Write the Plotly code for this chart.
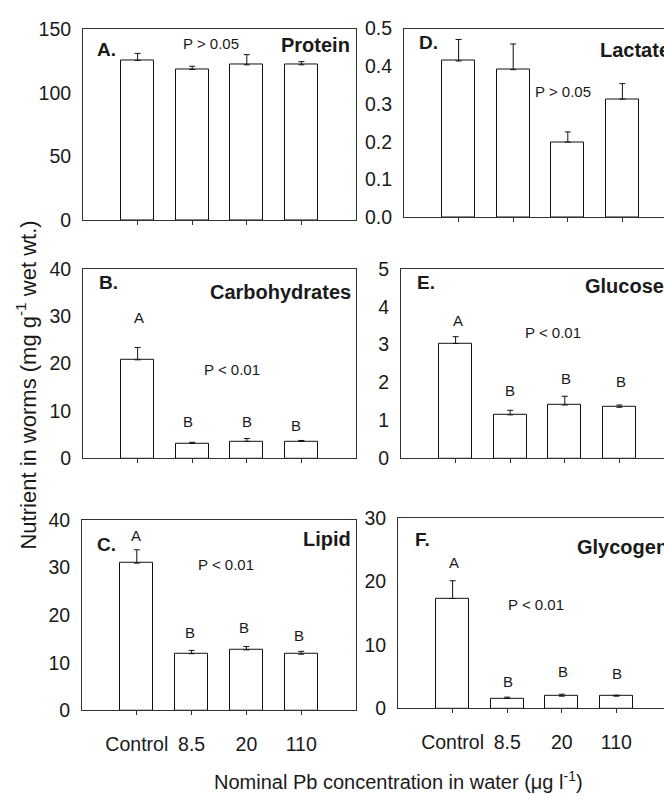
import plotly.graph_objects as go

W, H = 664, 808

categories = ["Control", "8.5", "20", "110"]

protein = [125.7, 118.6, 122.2, 122.2]
protein_err = [5.5, 2.5, 8.0, 2.5]
carbs = [20.8, 3.2, 3.6, 3.6]
carbs_err = [2.6, 0.2, 0.6, 0.2]
lipid = [30.9, 11.9, 12.7, 11.8]
lipid_err = [2.8, 0.7, 0.7, 0.6]
lactate = [0.414, 0.391, 0.199, 0.313]
lactate_err = [0.057, 0.068, 0.027, 0.041]
glucose = [3.03, 1.15, 1.41, 1.35]
glucose_err = [0.18, 0.12, 0.23, 0.06]
glycogen = [17.3, 1.58, 1.94, 1.94]
glycogen_err = [2.8, 0.2, 0.3, 0.15]

panels = [
    ("A.", "Protein", protein, protein_err, [0, 150], [0, 50, 100, 150], "d", None, "P > 0.05"),
    ("B.", "Carbohydrates", carbs, carbs_err, [0, 40], [0, 10, 20, 30, 40], "d", ["A", "B", "B", "B"], "P < 0.01"),
    ("C.", "Lipid", lipid, lipid_err, [0, 40], [0, 10, 20, 30, 40], "d", ["A", "B", "B", "B"], "P < 0.01"),
    ("D.", "Lactate", lactate, lactate_err, [0, 0.5], [0, 0.1, 0.2, 0.3, 0.4, 0.5], ".1f", None, "P > 0.05"),
    ("E.", "Glucose", glucose, glucose_err, [0, 5], [0, 1, 2, 3, 4, 5], "d", ["A", "B", "B", "B"], "P < 0.01"),
    ("F.", "Glycogen", glycogen, glycogen_err, [0, 30], [0, 10, 20, 30], "d", ["A", "B", "B", "B"], "P < 0.01"),
]

# pixel geometry of each plot area: left, right, top, bottom
geom = [
    (83, 356, 19, 215),
    (83, 356, 265, 460),
    (82, 356, 523, 719),
    (404, 664, 18, 212),
    (401, 664, 265, 460),
    (398, 664, 521, 717),
]

# text positions (px)
lab_pos = [(95, 40), (97, 279), (95, 548), (417, 32), (415, 279), (413, 543)]
name_pos = [(352, 35, "right"), (353, 289, "right"), (353, 543, "right"),
            (598, 40, "left"), (583, 283, "left"), (575, 551, "left")]
p_pos = [(211, 33), (232, 369), (226, 569), (563, 83), (553, 331), (536, 610)]
letter_pos = [
    None,
    [(139, 315), (188, 422), (247, 422), (296, 426)],
    [(136, 539), (190, 639), (244, 634), (299, 642)],
    None,
    [(458, 318), (510, 390), (566, 378), (621, 381)],
    [(454, 567), (508, 689), (563, 679), (617, 681)],
]

FONT = "Liberation Sans, Arial, sans-serif"
LINE = "#333333"
TXT = "#1a1a1a"

def px(x):
    return x / W

def py(y):
    return 1 - y / H

fig = go.Figure()
annotations = []
layout = {}

for i, (lab, name, vals, errs, yr, tv, tf, letters, ptxt) in enumerate(panels):
    n = i + 1
    xa = "x" if n == 1 else f"x{n}"
    ya = "y" if n == 1 else f"y{n}"
    l, r, t, b = geom[i]
    fig.add_trace(go.Bar(
        x=list(range(len(categories))), y=vals,
        width=0.6,
        marker=dict(color="white", line=dict(color="#111111", width=1)),
        error_y=dict(type="data", array=errs, arrayminus=[0] * len(errs), symmetric=False,
                     color="#111111", thickness=1, width=3),
        xaxis=xa, yaxis=ya, showlegend=False,
    ))
    right_col = i >= 3
    unit = 54.6
    if right_col:
        xr = [-1, -1 + (r - l) / unit]
    else:
        xr = [-1, 4]
    bottom_row = i in (2, 5)
    layout["xaxis" if n == 1 else f"xaxis{n}"] = dict(
        domain=[px(l), px(r)], anchor=ya, range=xr,
        tickvals=list(range(len(categories))), ticktext=categories,
        showticklabels=bottom_row, ticks="outside", ticklen=4, tickcolor=LINE,
        showline=True, linecolor=LINE, linewidth=1, mirror=True,
        showgrid=False, zeroline=False, fixedrange=True,
        tickfont=dict(family=FONT, size=19.5, color=TXT), ticklabelstandoff=12,
    )
    layout["yaxis" if n == 1 else f"yaxis{n}"] = dict(
        domain=[py(b), py(t)], anchor=xa, range=yr,
        tickvals=tv, tickformat=tf, ticks="",
        showline=True, linecolor=LINE, linewidth=1, mirror=(not right_col),
        showgrid=False, zeroline=False, fixedrange=True,
        tickfont=dict(family=FONT, size=19.5, color=TXT), ticklabelstandoff=7,
    )
    annotations.append(dict(x=px(lab_pos[i][0]), y=py(lab_pos[i][1]), xref="paper", yref="paper",
                            text=f"<b>{lab}</b>", showarrow=False, xanchor="left", yanchor="middle",
                            font=dict(family=FONT, size=19, color=TXT)))
    nx, ny, anc = name_pos[i]
    annotations.append(dict(x=px(nx), y=py(ny), xref="paper", yref="paper",
                            text=f"<b>{name}</b>", showarrow=False, xanchor=anc, yanchor="middle",
                            font=dict(family=FONT, size=20, color=TXT)))
    annotations.append(dict(x=px(p_pos[i][0]), y=py(p_pos[i][1]), xref="paper", yref="paper",
                            text=ptxt, showarrow=False, xanchor="center", yanchor="middle",
                            font=dict(family=FONT, size=15, color=TXT)))
    if letters:
        for (lx, ly), let in zip(letter_pos[i], letters):
            annotations.append(dict(x=px(lx), y=py(ly), xref="paper", yref="paper",
                                    text=let, showarrow=False, xanchor="center", yanchor="middle",
                                    font=dict(family=FONT, size=15, color=TXT)))

annotations.append(dict(x=px(26), y=py(385), xref="paper", yref="paper",
                        text="Nutrient in worms (mg g<sup>-1</sup> wet wt.)", textangle=-90,
                        showarrow=False, xanchor="center", yanchor="middle",
                        font=dict(family=FONT, size=22, color=TXT)))
annotations.append(dict(x=px(398), y=py(806), xref="paper", yref="paper",
                        text="Nominal Pb concentration in water (μg l<sup>-1</sup>)",
                        showarrow=False, xanchor="center", yanchor="bottom",
                        font=dict(family=FONT, size=20, color=TXT)))

fig.update_layout(
    width=W, height=H, margin=dict(l=0, r=0, t=0, b=0),
    paper_bgcolor="white", plot_bgcolor="white",
    annotations=annotations, bargap=0, **layout,
)

fig.write_html("out.html", config={"displayModeBar": False})
